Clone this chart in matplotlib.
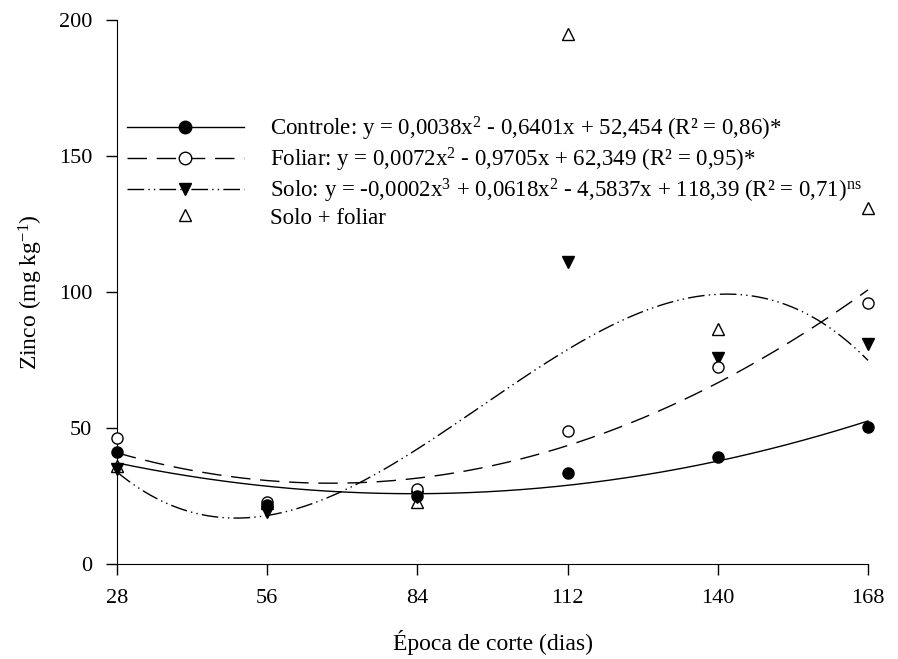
import numpy as np
import matplotlib
matplotlib.use("Agg")
import matplotlib.pyplot as plt
from matplotlib.lines import Line2D

plt.rcParams['font.family'] = ['Liberation Serif', 'DejaVu Serif']
plt.rcParams['mathtext.fontset'] = 'custom'
plt.rcParams['mathtext.rm'] = 'Liberation Serif'
plt.rcParams['mathtext.it'] = 'Liberation Serif:italic'

dias = [28, 56, 84, 112, 140, 168]
controle = [41.2, 21.5, 25.0, 33.5, 39.3, 50.4]
foliar = [46.3, 22.8, 27.4, 49.0, 72.5, 96.0]
solo = [35.0, 19.2, 24.8, 111.0, 75.7, 81.0]
solo_foliar = [36.0, 22.4, 22.9, 195.0, 86.5, 131.0]

labels = [
    "Controle: y = 0,0038x$^2$ - 0,6401x + 52,454 (R\u00b2 = 0,86)*",
    "Foliar: y = 0,0072x$^2$ - 0,9705x + 62,349 (R\u00b2 = 0,95)*",
    "Solo: y = -0,0002x$^3$ + 0,0618x$^2$ - 4,5837x + 118,39 (R\u00b2 = 0,71)$^{\\mathrm{ns}}$",
    "Solo + foliar",
]

fig = plt.figure(figsize=(8.98, 6.59), dpi=100)
ax = fig.add_axes([0.1303, 0.1442, 0.8363, 0.8255])

x = np.array(dias, dtype=float)
xs = np.linspace(28, 168, 300)

ls_dash = (0, (14, 7))
ls_dd = (0, (12, 3, 1, 3, 1, 3))

c_fit = np.polyfit(x, controle, 2)
f_fit = np.polyfit(x, foliar, 2)
s_fit = np.polyfit(x, solo, 3)

ax.plot(xs, np.polyval(c_fit, xs), color='black', lw=1, ls='-', clip_on=False)
ax.plot(xs, np.polyval(f_fit, xs), color='black', lw=1, ls=ls_dash, clip_on=False)
ax.plot(xs, np.polyval(s_fit, xs), color='black', lw=1, ls=ls_dd, clip_on=False)

ms = 8
ax.plot(x, solo_foliar, ls='none', marker='^', mfc='white', mec='black', ms=ms, mew=1, clip_on=False, zorder=3)
ax.plot(x, solo, ls='none', marker='v', mfc='black', mec='black', ms=ms, clip_on=False, zorder=4)
ax.plot(x, foliar, ls='none', marker='o', mfc='white', mec='black', ms=ms, mew=1, clip_on=False, zorder=5)
ax.plot(x, controle, ls='none', marker='o', mfc='black', mec='black', ms=ms, clip_on=False, zorder=6)

lms = 9
handles = [
    Line2D([], [], color='black', lw=1, ls='-', marker='o', mfc='black', mec='black', ms=lms),
    Line2D([], [], color='black', lw=1, ls=ls_dash, marker='o', mfc='white', mec='black', ms=lms),
    Line2D([], [], color='black', lw=1, ls=ls_dd, marker='v', mfc='black', mec='black', ms=lms),
    Line2D([], [], color='black', lw=0, ls='none', marker='^', mfc='white', mec='black', ms=lms),
]
leg = ax.legend(handles, labels, loc='upper left', bbox_to_anchor=(0.0133, 0.826), frameon=False,
                fontsize=16.5, handlelength=5.1, handletextpad=1.15, labelspacing=0.12,
                borderaxespad=0, borderpad=0)

ax.set_xlim(28, 168)
ax.set_ylim(0, 200)
ax.set_xticks(dias)
ax.set_yticks([0, 50, 100, 150, 200])
for s in ['top', 'right']:
    ax.spines[s].set_visible(False)
ax.tick_params(direction='out', length=8, width=1, labelsize=16, pad=10)
ax.set_xlabel("\u00c9poca de corte (dias)", fontsize=17, labelpad=16)
ax.set_ylabel("Zinco (mg kg$^{-1}$)", fontsize=17, labelpad=10)

fig.savefig("out.png", dpi=100)
